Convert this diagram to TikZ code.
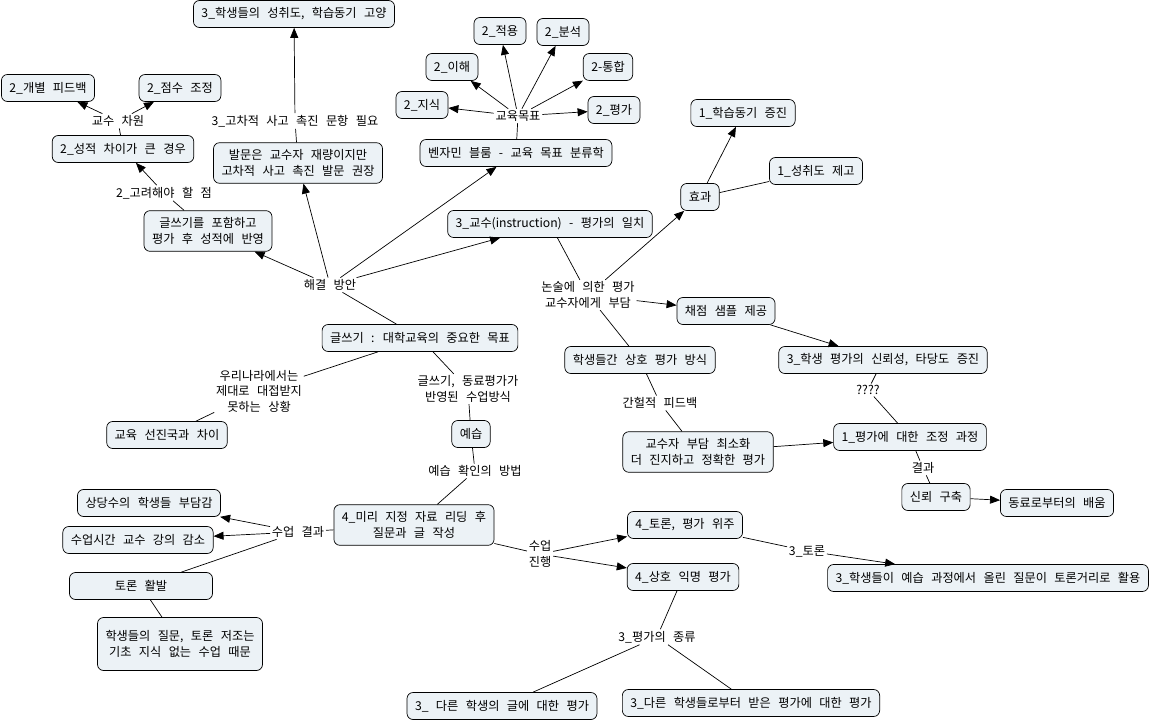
\documentclass[tikz,border=0pt]{standalone}
\usepackage{fontspec}
\setmainfont{Noto Sans CJK KR}[WordSpace=2.7]
\usetikzlibrary{arrows.meta}
\definecolor{cmapfill}{RGB}{236,242,246}

\begin{document}
\begin{tikzpicture}[x=10pt,y=10pt,line width=0.7pt]
\tikzstyle{every node}+=[font=\fontsize{12.2}{15.5}\selectfont]
\tikzstyle{concept}=[draw=black, fill=cmapfill, rounded corners=6pt, align=center, inner xsep=8pt, inner ysep=7pt, minimum height=27pt]
\tikzstyle{link}=[align=center, inner sep=1.5pt]
\tikzstyle{arrow}=[-{Triangle[length=10pt,width=8pt]}]

\fill [white] (0,0) rectangle (115.4,-72.2);
\useasboundingbox (0,0) rectangle (115.4,-72.2);

% centre of the map
\node [concept] (goal) at (42.0,-33.8) {글쓰기 : 대학교육의 중요한 목표};
\node [link] (solve) at (33.0,-28.5) {해결 방안};

% solutions, upper left
\node [concept] (reflect) at (20.8,-23.1) {글쓰기를 포함하고\\평가 후 성적에 반영};
\node [link] (consider) at (16.4,-19.3) {2\_고려해야 할 점};
\node [concept] (gap) at (12.3,-14.9) {2\_성적 차이가 큰 경우};
\node [link] (prof) at (11.8,-12.1) {교수 차원};
\node [concept] (feedback) at (4.8,-8.8) {2\_개별 피드백};
\node [concept] (adjust) at (18.0,-8.8) {2\_점수 조정};

\node [concept] (question) at (29.8,-16.3) {발문은 교수자 재량이지만\\고차적 사고 촉진 발문 권장};
\node [link] (higher) at (29.5,-12.1) {3\_고차적 사고 촉진 문항 필요};
\node [concept] (motive) at (29.4,-1.4) {3\_학생들의 성취도, 학습동기 고양};

% Bloom
\node [concept] (bloom) at (51.6,-15.3) {벤자민 블룸 - 교육 목표 분류학};
\node [link] (aims) at (51.8,-11.6) {교육목표};
\node [concept] (know) at (42.2,-10.5) {2\_지식};
\node [concept] (under) at (45.2,-6.7) {2\_이해};
\node [concept] (apply) at (50.0,-3.1) {2\_적용};
\node [concept] (analy) at (56.3,-3.2) {2\_분석};
\node [concept] (synth) at (60.8,-6.7) {2-통합};
\node [concept] (evalu) at (61.4,-11.0) {2\_평가};

% instruction and evaluation
\node [concept] (align) at (55.0,-22.4) {3\_교수(instruction) - 평가의 일치};
\node [link] (burden) at (58.8,-29.5) {논술에 의한 평가\\교수자에게 부담};
\node [concept] (effect) at (70.0,-19.7) {효과};
\node [concept] (motiv1) at (74.3,-11.3) {1\_학습동기 증진};
\node [concept] (achieve) at (81.6,-17.1) {1\_성취도 제고};
\node [concept] (sample) at (72.6,-31.1) {채점 샘플 제공};
\node [concept] (valid) at (88.3,-36.0) {3\_학생 평가의 신뢰성, 타당도 증진};
\node [concept] (peer) at (64.0,-36.0) {학생들간 상호 평가 방식};
\node [link] (intermit) at (66.0,-40.3) {간헐적 피드백};
\node [concept] (minimize) at (69.8,-45.2) {교수자 부담 최소화\\더 진지하고 정확한 평가};
\node [link] (unknown) at (86.8,-39.0) {????};
\node [concept] (calib) at (91.0,-43.7) {1\_평가에 대한 조정 과정};
\node [link] (result) at (92.3,-46.8) {결과};
\node [concept] (trust) at (93.6,-49.7) {신뢰 구축};
\node [concept] (learn) at (105.7,-50.3) {동료로부터의 배움};

% situation
\node [link] (korea) at (25.9,-39.1) {우리나라에서는\\제대로 대접받지\\못하는 상황};
\node [concept] (advanced) at (16.7,-43.5) {교육 선진국과 차이};

% class method
\node [link] (method) at (46.8,-38.9) {글쓰기, 동료평가가\\반영된 수업방식};
\node [concept] (prep) at (47.1,-43.4) {예습};
\node [link] (check) at (47.5,-47.1) {예습 확인의 방법};
\node [concept] (reading) at (41.4,-52.5) {4\_미리 지정 자료 리딩 후\\질문과 글 작성};
\node [link] (outcome) at (29.8,-53.2) {수업 결과};
\node [concept] (load) at (14.9,-50.3) {상당수의 학생들 부담감};
\node [concept] (lecture) at (13.8,-54.0) {수업시간 교수 강의 감소};
\node [concept, minimum width=143pt] (debate) at (14.1,-58.6) {토론 활발};
\node [concept, minimum height=53pt] (cause) at (18.0,-64.4) {학생들의 질문, 토론 저조는\\기초 지식 없는 수업 때문};
\node [link] (proceed) at (54.0,-55.4) {수업\\진행};
\node [concept] (discuss) at (68.5,-52.5) {4\_토론, 평가 위주};
\node [concept] (anon) at (68.3,-57.7) {4\_상호 익명 평가};
\node [link] (topic) at (80.7,-55.1) {3\_토론};
\node [concept] (use) at (98.8,-57.8) {3\_학생들이 예습 과정에서 올린 질문이 토론거리로 활용};
\node [link] (kinds) at (65.7,-63.7) {3\_평가의 종류};
\node [concept] (other) at (50.2,-70.6) {3\_ 다른 학생의 글에 대한 평가};
\node [concept] (meta) at (75.1,-70.3) {3\_다른 학생들로부터 받은 평가에 대한 평가};

% connectors
\draw (goal) -- (solve);
\draw [arrow] (solve) -- (reflect);
\draw [arrow] (solve) -- (question);
\draw [arrow] (solve) -- (bloom);
\draw [arrow] (solve) -- (align);
\draw (reflect) -- (consider);
\draw [arrow] (consider) -- (gap);
\draw (gap) -- (prof);
\draw [arrow] (prof) -- (feedback);
\draw [arrow] (prof) -- (adjust);
\draw (question) -- (higher);
\draw [arrow] (higher) -- (motive);
\draw (bloom) -- (aims);
\foreach \goalname in {know,under,apply,analy,synth,evalu}
  \draw [arrow] (aims) -- (\goalname);
\draw (align) -- (burden);
\draw [arrow] (burden) -- (effect);
\draw [arrow] (burden) -- (sample);
\draw (burden) -- (peer);
\draw [arrow] (effect) -- (motiv1);
\draw (effect) -- (achieve);
\draw [arrow] (sample) -- (valid);
\draw (peer) -- (intermit);
\draw (intermit) -- (minimize);
\draw [arrow] (minimize) -- (calib);
\draw (valid) -- (unknown);
\draw (unknown) -- (calib);
\draw (calib) -- (result);
\draw (result) -- (trust);
\draw [arrow] (trust) -- (learn);
\draw (goal) -- (korea);
\draw (korea) -- (advanced);
\draw (goal) -- (method);
\draw (method) -- (prep);
\draw (prep) -- (check);
\draw (check) -- (reading);
\draw (reading) -- (outcome);
\draw [arrow] (outcome) -- (load);
\draw [arrow] (outcome) -- (lecture);
\draw (outcome) -- (debate);
\draw (debate) -- (cause);
\draw (reading) -- (proceed);
\draw [arrow] (proceed) -- (discuss);
\draw [arrow] (proceed) -- (anon);
\draw (discuss) -- (topic);
\draw [arrow] (topic) -- (use);
\draw (anon) -- (kinds);
\draw (kinds) -- (other);
\draw (kinds) -- (meta);
\end{tikzpicture}
\end{document}
